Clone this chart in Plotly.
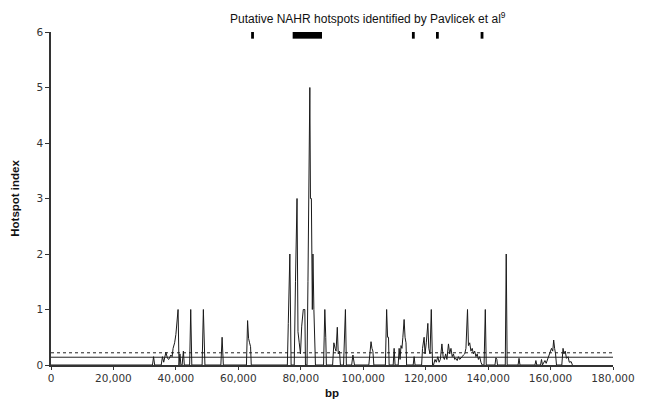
import plotly.graph_objects as go

# Hotspot index profile along the sequence (bp, index)
bp = [0, 32500, 32850, 33200,
      35300, 35700, 36100, 36800, 37300, 37700, 38400, 38800, 39100, 39600, 40000, 40700, 41000, 41300, 41600, 42000, 42400, 42700,
      44400, 44750, 45100,
      48400, 48800, 49100, 49300,
      54400, 54800, 55200,
      62600, 62960, 63280, 63600, 63920, 64140,
      75700, 76000, 76500, 76900,
      77900, 78300, 78800, 79100, 79200, 79500, 79900, 80300, 80800, 81300, 81500,
      82000, 82300, 82600, 82900, 83100, 83400, 83700, 83900, 84200, 84500, 84700,
      87300, 87700, 88000, 88200,
      90200, 90600, 91000, 91300, 91700, 92000, 92400, 92700,
      93700, 94000, 94300, 94600,
      96300, 96700, 97000, 97200,
      101800, 102100, 102500, 102800, 103100, 103400,
      107100, 107500, 107800, 108100, 108300,
      109600, 109900, 110200,
      111200, 111500, 111800, 112100, 112400, 112700, 113100, 113400, 113700, 113900,
      116000, 116300, 116600,
      118700, 119000, 119500, 119800, 120200, 120700, 121000, 121400, 121800, 122200,
      122500, 123000, 123400, 123900, 124300, 124700, 125200, 125600, 126000, 126400, 126800, 127300, 127700,
      128100, 128500, 128900, 129300, 129700, 130100, 130500, 130900, 131300, 131700, 132100, 132500, 132900,
      133400, 133700, 134100, 134500, 134900, 135300, 135700, 136100, 136500, 136900, 137300, 137700, 138100,
      138700, 139100, 139400,
      142200, 142500, 142800, 143000,
      145500, 145800, 146100,
      149600, 149900, 150200,
      155000, 155300, 155600,
      156800, 157100, 157400, 157800, 158200, 158600, 159000, 159300, 159700, 160300, 160700, 161000, 161300, 161600, 161900,
      163600, 164000, 164300, 164700, 165100, 165600, 166000, 166600, 167000]
hotspot_index = [0, 0, 0.15, 0,
      0, 0.15, 0.05, 0.23, 0.12, 0.10, 0.18, 0.15, 0.30, 0.40, 0.55, 1.0, 0, 0.20, 0, 0, 0.25, 0,
      0, 1.0, 0,
      0, 1.0, 0.3, 0,
      0, 0.5, 0,
      0, 0.8, 0.48, 0.4, 0.33, 0,
      0, 0.75, 2.0, 0,
      0, 1.5, 3.0, 0.6, 0.5, 0.4, 0.2, 0.7, 1.0, 1.0, 0,
      0, 1.5, 4.0, 5.0, 3.0, 3.0, 1.0, 2.0, 1.0, 0.5, 0,
      0, 1.0, 0.5, 0,
      0, 0.4, 0.3, 0.25, 0.68, 0.2, 0.25, 0,
      0, 0.7, 1.0, 0,
      0, 0.18, 0.1, 0,
      0, 0.25, 0.42, 0.3, 0.25, 0,
      0, 1.0, 0.5, 0.5, 0,
      0, 0.3, 0,
      0, 0.3, 0.1, 0.35, 0.3, 0.5, 0.82, 0.5, 0.4, 0,
      0, 0.15, 0,
      0, 0.3, 0.5, 0.2, 0.4, 0.75, 0.3, 0.2, 1.0, 0,
      0, 0.1, 0.05, 0.15, 0.05, 0.1, 0.38, 0.15, 0.1, 0.2, 0.1, 0.38, 0.2,
      0.3, 0.15, 0.2, 0.1, 0.12, 0.08, 0.15, 0.1, 0.12, 0.15, 0.18, 0.2, 0.3,
      1.0, 0.35, 0.4, 0.25, 0.3, 0.2, 0.25, 0.15, 0.2, 0.1, 0.15, 0.05, 0,
      0, 1.0, 0,
      0, 0.13, 0.1, 0,
      0, 2.0, 0,
      0, 0.12, 0,
      0, 0.08, 0,
      0, 0.1, 0, 0.05, 0.08, 0.03, 0.1, 0.15, 0.2, 0.3, 0.25, 0.45, 0.3, 0.2, 0,
      0, 0.3, 0.2, 0.25, 0.12, 0.15, 0.05, 0.06, 0]

# Threshold lines
solid_threshold = 0.14
dotted_threshold = 0.22

# Putative NAHR hotspots (Pavlicek et al)
hotspot_start = [64100, 77400, 115600, 123300, 137600]
hotspot_end = [65000, 86800, 116500, 124200, 138500]
hotspot_y0 = 5.88
hotspot_y1 = 6.0

x_ticks = [0, 20000, 40000, 60000, 80000, 100000, 120000, 140000, 160000, 180000]
x_tick_labels = ["0", "20,000", "40,000", "60,000", "80,000", "100,000", "120,000", "140,000", "160,000", "180,000"]
y_ticks = [0, 1, 2, 3, 4, 5, 6]

fig = go.Figure()
fig.add_trace(go.Scatter(x=[0, 180000], y=[solid_threshold] * 2, mode="lines",
                         line=dict(color="#222222", width=1), hoverinfo="skip"))
fig.add_trace(go.Scatter(x=[0, 180000], y=[dotted_threshold] * 2, mode="lines",
                         line=dict(color="#222222", width=1, dash="dot"), hoverinfo="skip"))
fig.add_trace(go.Scatter(x=bp, y=hotspot_index, mode="lines",
                         line=dict(color="#1a1a1a", width=1)))

for s, e in zip(hotspot_start, hotspot_end):
    fig.add_shape(type="rect", xref="x", yref="y", x0=s, x1=e, y0=hotspot_y0, y1=hotspot_y1,
                  fillcolor="black", line=dict(width=0))

fig.add_annotation(text="Putative NAHR hotspots identified by Pavlicek et al<sup>9</sup>",
                   xref="paper", yref="paper", x=(370 - 51) / 566, y=1.0 + 14 / 333,
                   showarrow=False, xanchor="center", yanchor="middle",
                   font=dict(family="Liberation Sans, Arial", size=12, color="#111"))
fig.add_annotation(text="<b>Hotspot index</b>", xref="paper", yref="paper",
                   x=-37 / 566, y=0.5, textangle=-90, showarrow=False,
                   xanchor="center", yanchor="middle",
                   font=dict(family="Liberation Sans, Arial", size=11.5, color="#111"))
fig.add_annotation(text="<b>bp</b>", xref="paper", yref="paper",
                   x=(334 - 51) / 566, y=-28 / 333, showarrow=False,
                   xanchor="center", yanchor="middle",
                   font=dict(family="Liberation Sans, Arial", size=11.5, color="#111"))

fig.update_layout(
    width=647, height=399,
    margin=dict(l=51, r=30, t=32, b=34),
    paper_bgcolor="white", plot_bgcolor="white",
    showlegend=False,
    xaxis=dict(range=[0, 180000], tickvals=x_ticks, ticktext=x_tick_labels,
               showgrid=False, zeroline=False, showline=True, linecolor="#333",
               linewidth=1.5, ticks="outside", ticklen=3, tickcolor="#333",
               tickfont=dict(family="DejaVu Sans", size=10.5, color="#333")),
    yaxis=dict(range=[0, 6], tickvals=y_ticks, showgrid=False, zeroline=False,
               showline=True, linecolor="#333", linewidth=1.5, ticks="outside",
               ticklen=4, tickcolor="#333",
               tickfont=dict(family="DejaVu Sans", size=10.5, color="#333")),
)

fig.write_html("out.html", config={"displayModeBar": False},
               post_script="document.body.style.margin='0';")
